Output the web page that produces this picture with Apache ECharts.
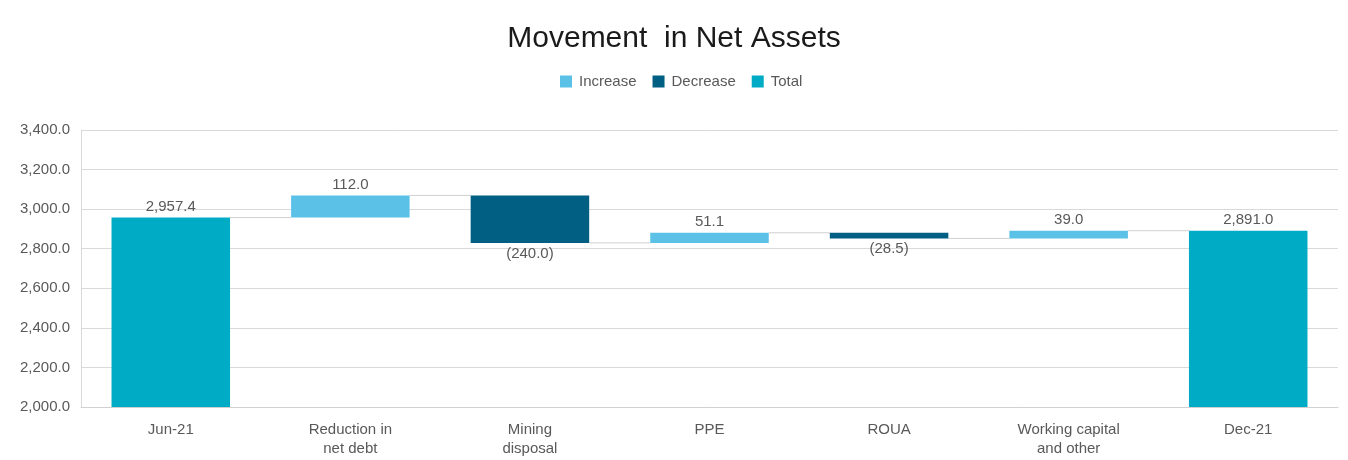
<!DOCTYPE html>
<html>
<head>
<meta charset="utf-8">
<script src="https://cdn.jsdelivr.net/npm/echarts@6/dist/echarts.min.js"></script>
<style>
  html, body { margin: 0; padding: 0; background: #fff; }
  #chart { width: 1348px; height: 460px; }
</style>
</head>
<body>
<div id="chart"></div>
<script>
// data
const categories = ['Jun-21', 'Reduction in\nnet debt', 'Mining\ndisposal', 'PPE', 'ROUA', 'Working capital\nand other', 'Dec-21']
const startTotal = 2957.4
const endTotal = 2891.0
const movements = [112.0, -240.0, 51.1, -28.5, 39.0]
const yTicks = { min: 2000, max: 3400, interval: 200 }

// waterfall pieces built from the movements
const base = ['-']
const increase = ['-']
const decrease = ['-']
const total = [startTotal]
const levels = [startTotal]
let level = startTotal
movements.forEach(m => {
  const next = +(level + m).toFixed(1)
  if (m >= 0) {
    base.push(level); increase.push(m); decrease.push('-')
  } else {
    base.push(next); increase.push('-'); decrease.push(-m)
  }
  total.push('-')
  level = next
  levels.push(level)
})
base.push('-'); increase.push('-'); decrease.push('-'); total.push(endTotal)

const fmt = v => v.toLocaleString('en-US', { minimumFractionDigits: 1, maximumFractionDigits: 1 })
const labelColor = '#595959'
const BAR_RATIO = 0.66

const chart = echarts.init(document.getElementById('chart'))

chart.setOption({
  backgroundColor: '#fff',
  textStyle: { fontFamily: 'Liberation Sans, Arial, sans-serif' },
  title: {
    text: 'Movement  in Net Assets',
    left: 'center',
    top: 19,
    textStyle: { fontSize: 30, fontWeight: 'normal', color: '#1a1a1a', fontFamily: 'Liberation Sans, Arial, sans-serif' }
  },
  legend: {
    top: 69,
    left: 555,
    itemWidth: 12,
    itemHeight: 12,
    itemGap: 16,
    icon: 'rect',
    data: ['Increase', 'Decrease', 'Total'],
    textStyle: { color: labelColor, fontSize: 15, padding: [0, 0, 0, 2] }
  },
  grid: { left: 81, right: 10, top: 130, bottom: 53 },
  xAxis: {
    type: 'category',
    data: categories,
    axisLine: { lineStyle: { color: '#d0d0d0' } },
    axisTick: { show: false },
    axisLabel: { color: labelColor, fontSize: 15, lineHeight: 19, margin: 13 }
  },
  yAxis: {
    type: 'value',
    min: yTicks.min,
    max: yTicks.max,
    interval: yTicks.interval,
    axisLine: { show: true, lineStyle: { color: '#d9d9d9' } },
    axisTick: { show: false },
    axisLabel: { color: labelColor, fontSize: 15, margin: 11, formatter: v => fmt(v) },
    splitLine: { lineStyle: { color: '#d9d9d9' } }
  },
  series: [
    {
      // connector lines between bars
      type: 'custom',
      z: 1,
      silent: true,
      data: levels.map((v, i) => [i, v]),
      renderItem: (params, api) => {
        const i = api.value(0)
        const v = api.value(1)
        const half = api.size([1, 0])[0] * BAR_RATIO / 2
        const p1 = api.coord([i, v])
        const p2 = api.coord([i + 1, v])
        return {
          type: 'line',
          shape: { x1: p1[0] + half, y1: p1[1], x2: p2[0] - half, y2: p2[1] },
          style: { stroke: '#d0d0d0', lineWidth: 1 }
        }
      }
    },
    {
      name: 'base',
      type: 'bar',
      stack: 'w',
      barWidth: (BAR_RATIO * 100) + '%',
      itemStyle: { color: 'transparent' },
      silent: true,
      data: base
    },
    {
      name: 'Increase',
      type: 'bar',
      stack: 'w',
      z: 3,
      itemStyle: { color: '#5bc1e7' },
      label: { show: true, position: 'top', color: labelColor, fontSize: 15, distance: 3, formatter: p => fmt(p.value) },
      data: increase
    },
    {
      name: 'Decrease',
      type: 'bar',
      stack: 'w',
      z: 3,
      itemStyle: { color: '#005f83' },
      label: { show: true, position: 'bottom', color: labelColor, fontSize: 15, distance: 3, formatter: p => '(' + fmt(p.value) + ')' },
      data: decrease
    },
    {
      name: 'Total',
      type: 'bar',
      stack: 'w',
      z: 3,
      itemStyle: { color: '#00abc6' },
      label: { show: true, position: 'top', color: labelColor, fontSize: 15, distance: 3, formatter: p => fmt(p.value) },
      data: total
    }
  ]
})
</script>
</body>
</html>
